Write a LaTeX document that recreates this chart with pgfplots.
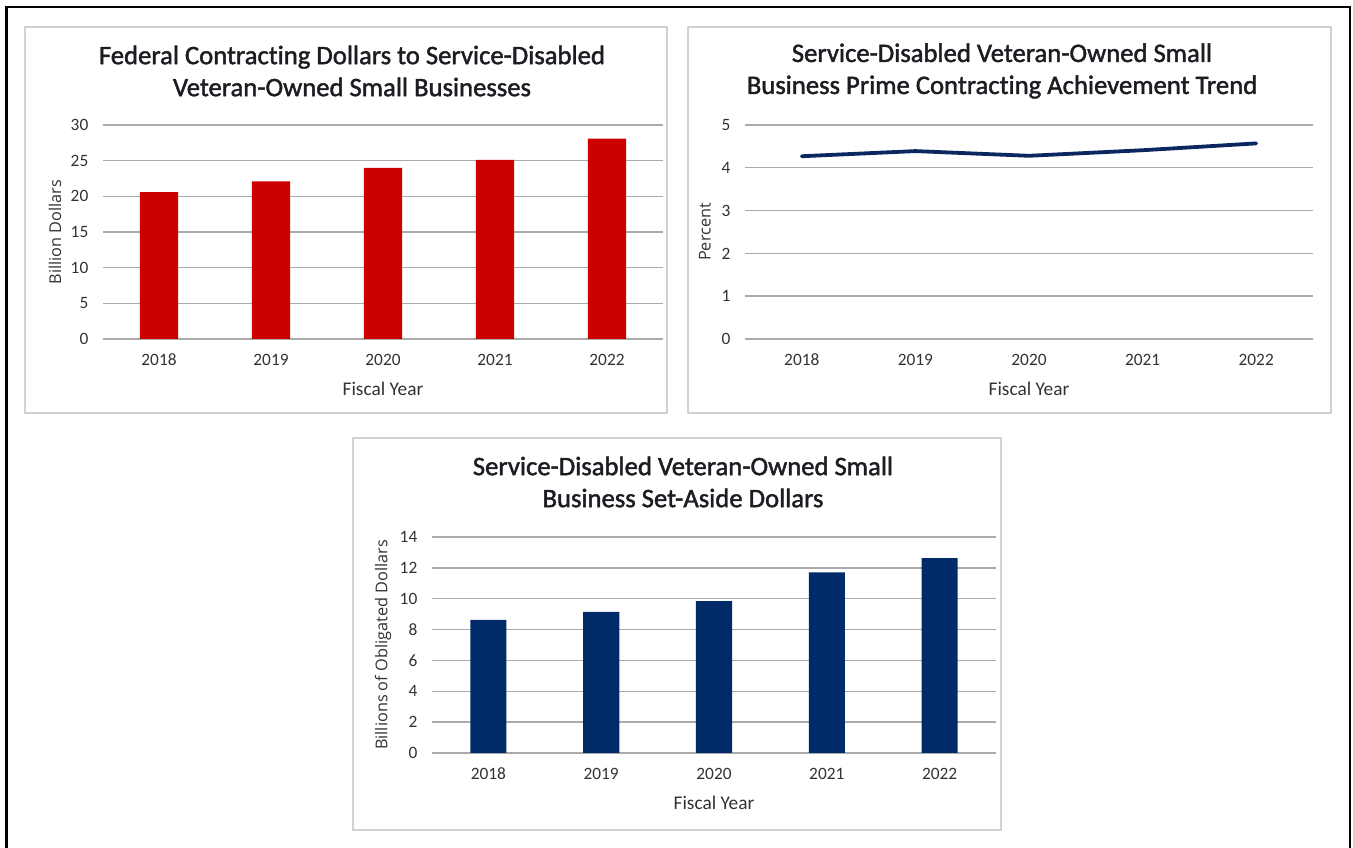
\documentclass[border=0pt]{standalone}
\usepackage{pgfplots}
\pgfplotsset{compat=1.18}
\usepackage{fontspec}
\setmainfont{Carlito}[Ligatures=NoCommon]
\newfontfamily\titlefont{Carlito}[Ligatures=NoCommon, FakeBold=1.6]
\newfontfamily\labfont{Open Sans}
\newlength\px \setlength\px{0.75pt}
\definecolor{barred}{RGB}{204,0,0}
\definecolor{navy}{RGB}{0,42,104}
\definecolor{linenavy}{RGB}{10,40,95}
\definecolor{gridgray}{RGB}{170,170,170}
\definecolor{boxgray}{RGB}{210,210,210}
\definecolor{titlecol}{RGB}{28,28,34}
\definecolor{tickcol}{RGB}{50,50,50}

\pgfplotsset{
  panel/.style={
    scale only axis,
    axis x line*=bottom, axis y line*=left,
    axis line style={draw=none},
    ymajorgrids,
    grid style={gridgray, line width=1.4\px},
    major tick length=0pt,
    xmin=-0.5, xmax=4.5, ymin=0,
    xtick={0,1,2,3,4},
    xticklabels={2018,2019,2020,2021,2022},
    /pgf/number format/assume math mode=true,
    tick label style={font=\fontsize{13}{15}\selectfont, text=tickcol},
    xticklabel style={yshift=-12\px, text height=1.6ex, text depth=0.2ex},
    yticklabel style={xshift=-10\px},
    title style={font=\titlefont\fontsize{20}{24}\selectfont, text=titlecol, align=center, anchor=center, at={(axis description cs:0.5,1)}},
    xlabel style={font=\fontsize{14.5}{16}\selectfont, text=tickcol, anchor=center, at={(axis description cs:0.5,0)}, yshift=-50\px},
    every axis y label/.style={font=\labfont\fontsize{12.2}{14}\selectfont, text=tickcol, rotate=90, anchor=center, at={(axis description cs:0,0.5)}},
    xlabel={Fiscal Year},
    clip=false,
  }
}

\begin{document}
\begin{tikzpicture}
\useasboundingbox (0,0) rectangle (1353\px,848\px);
% outer frame
\draw[black, line width=2.6\px] (6.5\px,-10\px) -- (6.5\px,841\px) -- (1350\px,841\px) -- (1350\px,-10\px);
% panel boxes
\draw[boxgray, line width=1.5\px] (25\px,435\px) rectangle (667\px,821\px);
\draw[boxgray, line width=1.5\px] (688\px,435\px) rectangle (1331\px,821\px);
\draw[boxgray, line width=1.5\px] (353\px,18\px) rectangle (1001\px,410\px);

% Panel 1
\begin{axis}[panel,
  at={(103\px,509\px)}, anchor=south west,
  width=560\px, height=214\px,
  ymax=30, ytick={0,5,10,15,20,25,30},
  title={Federal Contracting Dollars to Service-Disabled\\Veteran-Owned Small Businesses},
  title style={xshift=-31\px, yshift=46\px},
  ylabel={Billion Dollars},
  ylabel style={yshift=48\px},
]
\addplot[ybar, bar width=0.34, fill=barred, draw=none] coordinates {(0,20.6) (1,22.1) (2,24.0) (3,25.1) (4,28.1)};
\end{axis}

% Panel 2
\begin{axis}[panel,
  at={(745\px,509\px)}, anchor=south west,
  width=568\px, height=214\px,
  ymax=5, ytick={0,1,2,3,4,5},
  title={Service-Disabled Veteran-Owned Small\\Business Prime Contracting Achievement Trend},
  title style={xshift=-27\px, yshift=46\px},
  ylabel={Percent},
  ylabel style={yshift=40\px},
]
\addplot[linenavy, line width=3.8\px, line join=round, line cap=round] coordinates {(0,4.27) (1,4.39) (2,4.28) (3,4.41) (4,4.57)};
\end{axis}

% Panel 3
\begin{axis}[panel,
  at={(432\px,95\px)}, anchor=south west,
  width=564\px, height=216\px,
  ymax=14, ytick={0,2,4,6,8,10,12,14},
  title={Service-Disabled Veteran-Owned Small\\Business Set-Aside Dollars},
  title style={xshift=-31\px, yshift=47\px},
  ylabel={Billions of Obligated Dollars},
  ylabel style={yshift=49\px},
]
\addplot[ybar, bar width=0.32, fill=navy, draw=none] coordinates {(0,8.63) (1,9.15) (2,9.85) (3,11.7) (4,12.63)};
\end{axis}
\end{tikzpicture}
\end{document}
